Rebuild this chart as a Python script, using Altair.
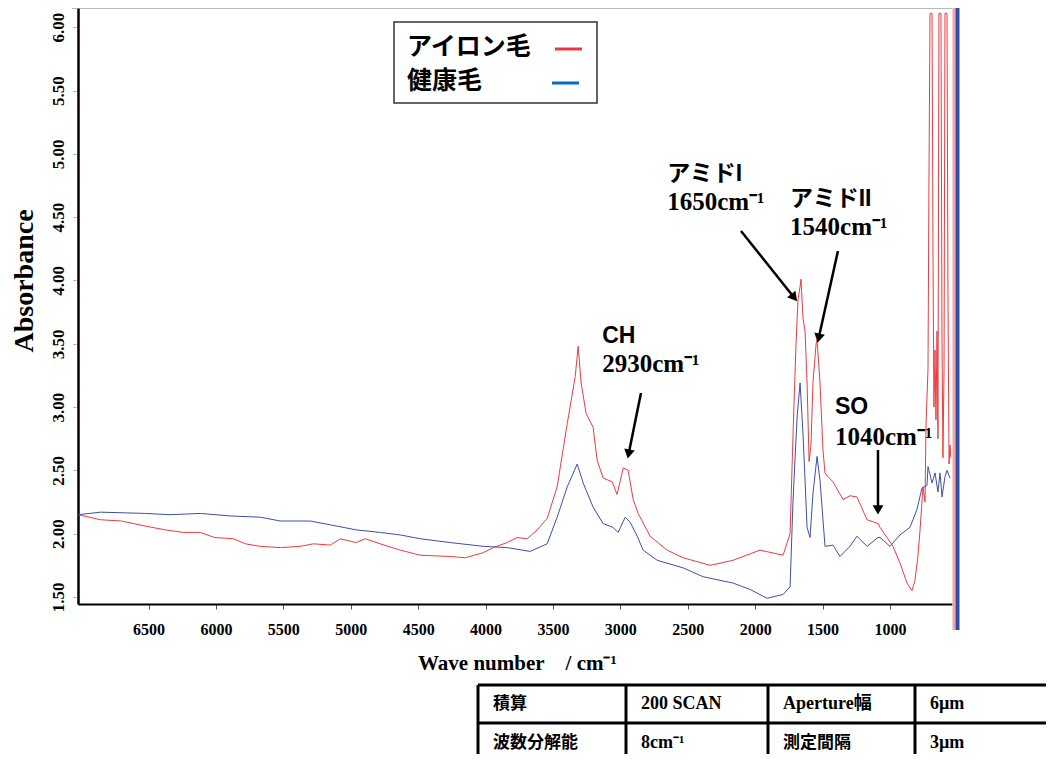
import math
import altair as alt
import pandas as pd

# ---------------- data ----------------
series_names = ["アイロン毛", "健康毛"]

red_wn = [7020, 6856, 6700, 6523, 6374, 6241, 6115, 6011, 5870, 5781, 5670, 5522, 5374, 5277,
          5151, 5077, 4959, 4892, 4781, 4632, 4484, 4262, 4150, 4017, 3943, 3839, 3765, 3691,
          3617, 3543, 3469, 3394, 3335, 3313, 3291, 3254, 3202, 3172, 3128, 3061, 3024, 2979,
          2942, 2905, 2868, 2779, 2653, 2534, 2334, 2164, 1964, 1793, 1741, 1719, 1697, 1682,
          1667, 1660, 1645, 1630, 1615, 1600, 1586, 1571, 1548, 1541, 1519, 1497, 1482, 1460,
          1423, 1348, 1297, 1245, 1170, 1089, 1074, 1022, 978, 926, 874, 837, 815, 793, 777,
          755, 740, 733, 718, 711, 703, 688, 681, 674, 666, 659, 651, 644, 637, 622, 614, 607,
          599, 592, 577, 570, 562, 555, 548]
red_abs = [2.15, 2.11, 2.10, 2.06, 2.03, 2.01, 2.01, 1.97, 1.96, 1.92, 1.90, 1.89, 1.90, 1.92,
           1.91, 1.96, 1.93, 1.96, 1.92, 1.87, 1.83, 1.82, 1.81, 1.85, 1.89, 1.93, 1.97, 1.96,
           2.03, 2.12, 2.37, 2.87, 3.24, 3.48, 3.19, 2.95, 2.84, 2.58, 2.44, 2.41, 2.31, 2.52,
           2.50, 2.27, 2.16, 1.98, 1.87, 1.81, 1.75, 1.79, 1.87, 1.83, 2.00, 2.79, 3.50, 3.85,
           3.95, 4.01, 3.70, 3.60, 3.19, 2.57, 2.70, 3.20, 3.50, 3.53, 3.19, 2.66, 2.48, 2.45,
           2.41, 2.27, 2.30, 2.29, 2.11, 2.08, 2.05, 1.97, 1.90, 1.77, 1.61, 1.55, 1.63, 1.82, 2.03,
           2.37, 2.25, 2.85, 3.30, 4.77, 6.11, 6.11, 4.20, 3.00, 3.45, 2.90, 3.60, 2.75, 6.11, 6.11,
           3.50, 2.60, 3.30, 6.11, 6.11, 3.90, 2.55, 2.70, 2.60]

blue_wn = [7020, 6856, 6523, 6340, 6115, 5893, 5670, 5522, 5300, 5151, 4959, 4781, 4632, 4484,
           4262, 4017, 3839, 3669, 3543, 3469, 3394, 3320, 3276, 3202, 3128, 3054, 3017, 2964,
           2927, 2875, 2831, 2727, 2534, 2386, 2164, 2038, 1912, 1793, 1741, 1719, 1689, 1667,
           1645, 1615, 1593, 1571, 1541, 1519, 1482, 1423, 1371, 1297, 1245, 1170, 1089, 1074,
           1000, 926, 852, 800, 763, 726, 718, 688, 666, 644, 629, 614, 592, 577, 555]
blue_abs = [2.15, 2.17, 2.16, 2.15, 2.16, 2.14, 2.13, 2.10, 2.10, 2.07, 2.03, 2.01, 1.99, 1.96,
            1.93, 1.90, 1.89, 1.86, 1.92, 2.13, 2.37, 2.55, 2.40, 2.21, 2.08, 2.05, 2.01, 2.13,
            2.09, 1.98, 1.87, 1.79, 1.73, 1.66, 1.61, 1.56, 1.49, 1.52, 1.58, 2.27, 2.92, 3.19,
            2.79, 2.05, 1.97, 2.32, 2.61, 2.42, 1.90, 1.91, 1.82, 1.90, 1.98, 1.90, 1.97, 1.97,
            1.90, 1.99, 2.05, 2.19, 2.36, 2.38, 2.53, 2.40, 2.48, 2.33, 2.48, 2.29, 2.45, 2.50, 2.44]

x_ticks = [6500, 6000, 5500, 5000, 4500, 4000, 3500, 3000, 2500, 2000, 1500, 1000]
y_ticks = [1.5, 2.0, 2.5, 3.0, 3.5, 4.0, 4.5, 5.0, 5.5, 6.0]

ann_labels = ["アミドI", "アミドII", "CH", "SO"]
ann_numbers = ["1650cm⁻¹", "1540cm⁻¹", "2930cm⁻¹", "1040cm⁻¹"]
ann_wn = [2653, 1741, 3135, 1408]
ann_label_abs = [4.84, 4.64, 3.56, 3.00]
ann_number_abs = [4.62, 4.42, 3.34, 2.76]
arrow_from_wn = [2105, 1386, 2847, 1089]
arrow_from_abs = [4.391, 4.233, 3.111, 2.661]
arrow_to_wn = [1697, 1534, 2943, 1089]
arrow_to_abs = [3.846, 3.522, 2.606, 2.164]

table_rows = [["積算", "200 SCAN", "Aperture幅", "6µm"],
              ["波数分解能", "8cm⁻¹", "測定間隔", "3µm"]]
table_japanese = [[True, False, False, False], [True, False, True, False]]

x_title = "Wave number\u00a0\u00a0\u00a0\u00a0/ cm⁻¹"
y_title = "Absorbance"

# ---------------- layout / style ----------------
W, H = 874, 596
X_DOM = [540, 7023]
Y_DOM = [1.4447, 6.152]
RED, BLUE = "#ee3a3f", "#3d4fa8"
LEG_RED, LEG_BLUE = "#e8383d", "#0070c0"
SERIF = "Liberation Serif"
JP = "Noto Sans CJK JP"

xs = alt.Scale(domain=X_DOM, reverse=True, nice=False, zero=False)
ys = alt.Scale(domain=Y_DOM, nice=False, zero=False)


def to_px(wn):
    return (X_DOM[1] - wn) / (X_DOM[1] - X_DOM[0]) * W


def to_py(a):
    return (Y_DOM[1] - a) / (Y_DOM[1] - Y_DOM[0]) * H


def from_px(p):
    return X_DOM[1] - p / W * (X_DOM[1] - X_DOM[0])


def from_py(p):
    return Y_DOM[1] - p / H * (Y_DOM[1] - Y_DOM[0])


spec = pd.concat([
    pd.DataFrame({"wn": red_wn, "A": red_abs, "series": series_names[0]}),
    pd.DataFrame({"wn": blue_wn, "A": blue_abs, "series": series_names[1]}),
], ignore_index=True)

x_axis = alt.Axis(values=x_ticks, format="d", title=None, grid=False, labelFlush=False,
                  labelFont=SERIF, labelFontWeight="bold", labelFontSize=16, labelColor="black",
                  labelPadding=12, tickSize=5, tickColor="#555", tickWidth=1,
                  domainColor="black", domainWidth=2)
y_axis = alt.Axis(values=y_ticks, format=".2f", title=None, grid=False, labelFlush=False,
                  labelAngle=270, labelAlign="center", labelBaseline="alphabetic",
                  labelFont=SERIF, labelFontWeight="bold", labelFontSize=17, labelColor="black",
                  labelPadding=9, tickSize=6, tickColor="#999", tickDash=[2, 1], tickWidth=1,
                  domainColor="black", domainWidth=2.5)


def X(field):
    return alt.X(field, scale=xs, axis=x_axis, title=None)


def Y(field):
    return alt.Y(field, scale=ys, axis=y_axis, title=None)


lines = alt.Chart(spec).mark_line(strokeWidth=1).encode(
    x=X("wn:Q"),
    y=Y("A:Q"),
    color=alt.Color("series:N", scale=alt.Scale(domain=series_names, range=[RED, BLUE]), legend=None),
)

one = pd.DataFrame({"k": [0]})

top_border = alt.Chart(one).mark_rule(color="#777", strokeWidth=1).encode(
    x=alt.value(-6), x2=alt.value(W), y=alt.value(0))
bar_pink = alt.Chart(one).mark_rule(color="#f3a4a6", strokeWidth=3).encode(
    x=alt.value(W + 2), y=alt.value(-1), y2=alt.value(622))
bar_blue = alt.Chart(one).mark_rule(color="#3050a8", strokeWidth=4).encode(
    x=alt.value(W + 5.5), y=alt.value(-1), y2=alt.value(622))

# annotations (data coordinates)
ann = pd.DataFrame({"label": ann_labels, "num": ann_numbers, "wn": ann_wn,
                    "al": ann_label_abs, "an": ann_number_abs})
ann_lab = alt.Chart(ann).mark_text(align="left", baseline="middle", font="Liberation Sans, " + JP,
                                   fontWeight="bold", fontSize=23, color="black").encode(
    x=X("wn:Q"), y=Y("al:Q"), text="label:N")
ann_num = alt.Chart(ann).mark_text(align="left", baseline="middle", font=SERIF,
                                   fontWeight="bold", fontSize=25, color="black").encode(
    x=X("wn:Q"), y=Y("an:Q"), text="num:N")

rows = []
for fw, fa, tw, ta in zip(arrow_from_wn, arrow_from_abs, arrow_to_wn, arrow_to_abs):
    x0, y0, x1, y1 = to_px(fw), to_py(fa), to_px(tw), to_py(ta)
    dx, dy = x1 - x0, y1 - y0
    L = math.hypot(dx, dy)
    ux, uy = dx / L, dy / L
    ang = math.degrees(math.atan2(dx, -dy)) % 360
    rows.append({"x0": fw, "y0": fa,
                 "x1": from_px(x1 - ux * 7), "y1": from_py(y1 - uy * 7),
                 "hx": from_px(x1 - ux * 4.5), "hy": from_py(y1 - uy * 4.5), "ang": ang})
arr = pd.DataFrame(rows)
shafts = alt.Chart(arr).mark_rule(color="black", strokeWidth=2.5).encode(
    x=X("x0:Q"), x2="x1:Q", y=Y("y0:Q"), y2="y1:Q")
heads = alt.Chart(arr).mark_point(shape="triangle", filled=True, size=115, color="black",
                                  opacity=1, strokeWidth=0).encode(
    x=X("hx:Q"), y=Y("hy:Q"), angle=alt.Angle("ang:Q", scale=None))

# legend box
leg_box = alt.Chart(one).mark_rect(fill="white", stroke="#333", strokeWidth=1.5).encode(
    x=alt.value(316), x2=alt.value(519), y=alt.value(14), y2=alt.value(95))
leg = pd.DataFrame({"series": series_names, "ly": [39, 73], "sy": [41, 75],
                    "sx1": [477, 474], "sx2": [504, 501], "col": [LEG_RED, LEG_BLUE]})
leg_text = alt.Chart(leg).mark_text(align="left", baseline="middle", font=JP, fontWeight="bold",
                                    fontSize=25, color="black").encode(
    x=alt.value(329), y=alt.Y("ly:Q", scale=None), text="series:N")
leg_swatch = alt.Chart(leg).mark_rule(strokeWidth=3).encode(
    x=alt.X("sx1:Q", scale=None), x2="sx2:Q",
    y=alt.Y("sy:Q", scale=None), color=alt.Color("col:N", scale=None))

# axis titles
x_title_mark = alt.Chart(one).mark_text(align="left", baseline="alphabetic", font=SERIF,
                                        fontWeight="bold", fontSize=21, color="black",
                                        text=x_title).encode(x=alt.value(340), y=alt.value(662))
y_title_mark = alt.Chart(one).mark_text(align="center", baseline="middle", font=SERIF,
                                        fontWeight="bold", fontSize=28, color="black", angle=270,
                                        text=y_title).encode(x=alt.value(-53), y=alt.value(273))

# parameter table
col_x = [400, 548, 690, 837]
row_y = [677, 715, 754]
vlines = pd.DataFrame({"x": col_x, "y1": row_y[0], "y2": row_y[-1]})
hlines = pd.DataFrame({"y": row_y, "x1": col_x[0], "x2": 990})
t_v = alt.Chart(vlines).mark_rule(color="black", strokeWidth=3).encode(
    x=alt.X("x:Q", scale=None), y=alt.Y("y1:Q", scale=None), y2="y2:Q")
t_h = alt.Chart(hlines).mark_rule(color="black", strokeWidth=3).encode(
    x=alt.X("x1:Q", scale=None), x2="x2:Q", y=alt.Y("y:Q", scale=None))
cells = []
for r, row in enumerate(table_rows):
    for c, txt in enumerate(row):
        cells.append({"t": txt, "tx": col_x[c] + 15, "ty": (row_y[r] + row_y[r + 1]) / 2,
                      "jp": table_japanese[r][c]})
cells = pd.DataFrame(cells)
t_jp = alt.Chart(cells[cells.jp]).mark_text(align="left", baseline="middle", font=JP,
                                            fontWeight="bold", fontSize=17, color="black").encode(
    x=alt.X("tx:Q", scale=None), y=alt.Y("ty:Q", scale=None), text="t:N")
t_lat = alt.Chart(cells[~cells.jp]).mark_text(align="left", baseline="middle",
                                              font=SERIF + ", " + JP, fontWeight="bold",
                                              fontSize=18, color="black").encode(
    x=alt.X("tx:Q", scale=None), y=alt.Y("ty:Q", scale=None), text="t:N")

chart = alt.layer(
    lines, top_border, shafts, heads, ann_lab, ann_num, leg_box, leg_text, leg_swatch,
    bar_pink, bar_blue, x_title_mark, y_title_mark, t_v, t_h, t_jp, t_lat,
).properties(
    width=W, height=H,
    autosize=alt.AutoSizeParams(type="none"),
    padding={"left": 70, "top": 0, "right": 94, "bottom": 150},
    background="white",
).configure_view(stroke=None)

chart.save("out.html", embed_options={"renderer": "svg", "actions": False})
